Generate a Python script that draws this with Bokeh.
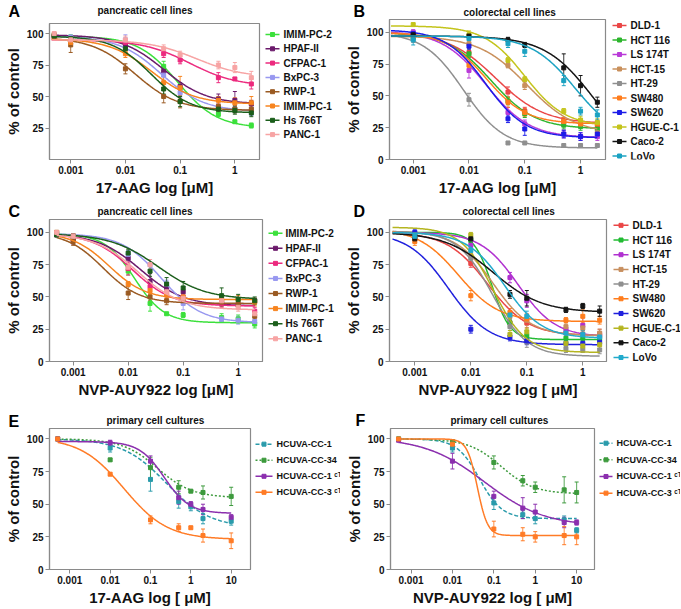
import numpy as np
from bokeh.plotting import figure
from bokeh.models import (ColumnDataSource, Whisker, TeeHead, FixedTicker,
                          CustomJSTickFormatter, Range1d)
from bokeh.core.properties import value
from bokeh.layouts import column, row
from bokeh.embed import file_html
from bokeh.resources import INLINE

FONT = "Liberation Sans"

# ---------------- Panel A: pancreatic, 17-AAG ----------------
doses_A = [0.0005, 0.001, 0.01, 0.05, 0.1, 0.5, 1, 2]
names_A = ["IMIM-PC-2", "HPAF-II", "CFPAC-1", "BxPC-3", "RWP-1", "IMIM-PC-1", "Hs 766T", "PANC-1"]
colors_A = ["#3be03b", "#6b1a6b", "#ec2a7e", "#9898f0", "#9a5a22", "#f7841f", "#1b5e1b", "#f7a4a4"]
values_A = [
    [99, 97, 90, 74, 57, 36, 30, 27],
    [98, 96, 91, 70, 58, 48, 47, 44],
    [97, 95, 93, 84, 79, 65, 64, 60],
    [98, 97, 95, 67, 53, 41, 40, 38],
    [99, 91, 72, 50, 46, 42, 40, 40],
    [98, 93, 84, 61, 57, 47, 45, 45],
    [98, 96, 88, 56, 46, 40, 39, 37],
    [100, 95, 95, 88, 83, 75, 73, 65],
]
errors_A = [
    [1, 2, 3, 4, 4, 2, 1, 2],
    [1, 2, 3, 4, 3, 4, 7, 3],
    [1, 2, 2, 3, 3, 4, 1, 4],
    [1, 2, 4, 4, 4, 3, 3, 3],
    [1, 6, 4, 5, 5, 4, 3, 3],
    [1, 3, 3, 5, 9, 3, 4, 5],
    [1, 2, 3, 4, 4, 3, 3, 3],
    [1, 2, 3, 3, 3, 3, 4, 5],
]
top_A = [98, 99, 95, 98, 97, 96, 98, 95]
bottom_A = [25, 44, 58, 38, 39, 44, 37, 65]
ec50_A = [0.09, 0.05, 0.15, 0.045, 0.015, 0.03, 0.03, 0.2]
hill_A = [1.2, 1.1, 1.0, 1.1, 1.1, 1.1, 1.2, 1.0]

# ---------------- Panel B: colorectal, 17-AAG ----------------
doses_B = [0.001, 0.01, 0.05, 0.1, 0.5, 1, 2]
names_B = ["DLD-1", "HCT 116", "LS 174T", "HCT-15", "HT-29", "SW480", "SW620", "HGUE-C-1", "Caco-2", "LoVo"]
colors_B = ["#ea4646", "#2db52d", "#b93ad8", "#c9905c", "#8f8f8f", "#ff7d1c", "#1c1ce8", "#c4c41c", "#141414", "#1ba2c2"]
values_B = [
    [97, 84, 53, 38, 30, 28, 27],
    [96, 83, 46, 36, 27, 26, 24],
    [100, 70, 37, 28, 20, 18, 18],
    [98, 91, 74, 58, 30, 28, 21],
    [95, 47, 13, 13, 11, 11, 11],
    [98, 74, 45, 37, 30, 28, 28],
    [99, 89, 32, 24, 20, 18, 20],
    [106, 98, 78, 63, 38, 31, 29],
    [98, 97, 94, 90, 72, 58, 45],
    [94, 95, 91, 85, 62, 38, 35],
]
errors_B = [
    [2, 3, 4, 3, 3, 3, 3],
    [2, 3, 3, 3, 3, 3, 3],
    [2, 6, 4, 3, 3, 3, 3],
    [2, 3, 2, 3, 3, 3, 3],
    [3, 5, 1, 1, 1, 1, 1],
    [2, 3, 4, 3, 3, 3, 3],
    [2, 3, 3, 5, 3, 3, 3],
    [1, 3, 2, 2, 2, 3, 3],
    [2, 2, 2, 2, 11, 8, 4],
    [4, 3, 3, 4, 4, 3, 4],
]
top_B = [100, 100, 101, 97, 100, 100, 102, 105, 97, 97]
bottom_B = [28, 24, 17, 20, 9, 28, 17, 26, 0, 15]
ec50_B = [0.03, 0.025, 0.02, 0.11, 0.008, 0.02, 0.02, 0.1, 1.7, 0.8]
hill_B = [1.0, 1.1, 1.1, 1.0, 1.2, 1.2, 1.2, 1.2, 1.0, 1.1]

# ---------------- Panel C: pancreatic, NVP-AUY922 ----------------
doses_C = [0.0005, 0.001, 0.01, 0.025, 0.05, 0.1, 0.5, 1, 2]
names_C = names_A
colors_C = colors_A
values_C = [
    [100, 96, 70, 45, 37, 36, 34, 33, 29],
    [98, 94, 80, 62, 57, 54, 46, 44, 47],
    [100, 97, 72, 58, 53, 50, 45, 44, 39],
    [99, 97, 83, 75, 60, 45, 33, 32, 31],
    [99, 93, 53, 50, 47, 48, 46, 44, 35],
    [100, 97, 60, 55, 52, 50, 48, 48, 46],
    [98, 97, 84, 70, 60, 57, 51, 48, 47],
    [100, 97, 73, 75, 54, 49, 47, 42, 37],
]
errors_C = [
    [1, 2, 3, 6, 1, 2, 3, 3, 3],
    [1, 3, 4, 6, 4, 4, 3, 3, 2],
    [1, 2, 5, 4, 4, 4, 3, 3, 3],
    [1, 2, 3, 4, 3, 5, 2, 3, 3],
    [1, 3, 5, 3, 3, 3, 3, 3, 3],
    [1, 2, 2, 3, 3, 3, 3, 3, 3],
    [1, 2, 3, 4, 5, 5, 6, 4, 3],
    [1, 2, 3, 4, 3, 3, 3, 3, 3],
]
top_C = [99, 99, 99, 99, 100, 100, 99, 99]
bottom_C = [30, 43, 43, 30, 45, 48, 48, 40]
ec50_C = [0.013, 0.017, 0.012, 0.04, 0.0035, 0.0045, 0.035, 0.015]
hill_C = [1.6, 1.1, 1.2, 1.2, 1.3, 1.3, 1.0, 1.1]

# ---------------- Panel D: colorectal, NVP-AUY922 ----------------
doses_D = [0.001, 0.01, 0.05, 0.1, 0.5, 1, 2]
names_D = names_B
colors_D = ["#ea4646", "#22bb33", "#b030d0", "#c89060", "#8f8f8f", "#ff7d1c", "#2020dd", "#b5b520", "#141414", "#22aacc"]
values_D = [
    [96, 76, 30, 30, 22, 21, 21],
    [98, 94, 30, 20, 18, 18, 18],
    [99, 90, 65, 47, 25, 28, 20],
    [97, 82, 35, 32, 27, 26, 22],
    [97, 80, 27, 15, 10, 9, 9],
    [93, 51, 38, 33, 32, 35, 32],
    [100, 25, 19, 16, 14, 14, 15],
    [98, 98, 21, 23, 14, 12, 13],
    [95, 95, 52, 49, 40, 43, 39],
    [97, 86, 36, 35, 22, 21, 19],
]
errors_D = [
    [3, 3, 3, 4, 4, 3, 4],
    [2, 2, 3, 4, 3, 3, 3],
    [2, 2, 4, 5, 3, 6, 3],
    [2, 3, 3, 4, 3, 3, 3],
    [2, 4, 3, 4, 3, 2, 3],
    [3, 4, 3, 4, 2, 5, 3],
    [2, 3, 3, 3, 2, 2, 2],
    [2, 2, 3, 3, 3, 3, 3],
    [3, 3, 3, 6, 2, 2, 4],
    [2, 3, 3, 4, 3, 3, 3],
]
top_D = [100, 100, 100, 101, 101, 103, 100, 104, 100, 100]
bottom_D = [20, 17, 19, 20, 4, 31, 13, 7, 38, 18]
ec50_D = [0.02, 0.024, 0.07, 0.025, 0.024, 0.006, 0.004, 0.025, 0.025, 0.04]
hill_D = [1.2, 2.7, 1.3, 1.3, 1.4, 1.2, 1.2, 1.5, 1.0, 1.3]

# ---------------- Panel E: primary cultures, 17-AAG ----------------
doses_E = [0.0005, 0.01, 0.1, 0.5, 1, 2, 10]
names_E = ["HCUVA-CC-1", "HCUVA-CC-34", "HCUVA-CC-1 \u1d9c\u1d40", "HCUVA-CC-3 \u1d9c\u1d40"]
colors_E = ["#2a9bab", "#3d9a3d", "#8b2fae", "#ff7b26"]
dashes_E = ["4 2", "2 2", "solid", "solid"]
values_E = [
    [100, 93, 69, 52, 48, 39, 37],
    [100, 84, 78, 63, 60, 59, 56],
    [100, 97, 83, 55, 50, 46, 40],
    [100, 73, 38, 32, 32, 26, 22],
]
errors_E = [
    [1, 3, 9, 5, 3, 4, 3],
    [1, 1, 8, 5, 1, 5, 7],
    [1, 2, 4, 5, 2, 4, 2],
    [1, 1, 3, 3, 1, 5, 6],
]
top_E = [100, 100, 98, 101]
bottom_E = [32, 55, 43, 23]
ec50_E = [0.25, 0.15, 0.22, 0.022]
hill_E = [0.8, 1.0, 1.4, 0.8]

# ---------------- Panel F: primary cultures, NVP-AUY922 ----------------
doses_F = [0.0005, 0.01, 0.1, 0.5, 1, 5, 10]
names_F = names_E
colors_F = colors_E
dashes_F = dashes_E
values_F = [
    [100, 93, 51, 42, 39, 38, 30],
    [100, 98, 82, 68, 63, 61, 59],
    [99, 83, 56, 47, 44, 36, 36],
    [100, 96, 31, 27, 25, 26, 25],
]
errors_F = [
    [1, 3, 5, 3, 4, 3, 2],
    [1, 1, 5, 4, 4, 10, 8],
    [1, 6, 4, 8, 6, 4, 2],
    [1, 2, 6, 5, 4, 7, 6],
]
top_F = [100, 100, 101, 100]
bottom_F = [39, 58, 33, 26]
ec50_F = [0.045, 0.15, 0.06, 0.04]
hill_F = [1.6, 1.1, 0.6, 3.5]


def four_pl(x, top, bottom, ec50, hill):
    return bottom + (top - bottom) / (1.0 + (x / ec50) ** hill)


def blank_fig(w, h, bt=0, bb=0):
    inner_h = h - bt - bb
    f = figure(width=w, height=h, x_range=Range1d(0, w), y_range=Range1d(inner_h, 0),
               x_axis_location=None, y_axis_location=None, title=None,
               output_backend="svg", toolbar_location=None,
               min_border=0, min_border_left=0, min_border_right=0,
               min_border_top=bt, min_border_bottom=bb)
    f.outline_line_color = None
    f.grid.visible = False
    f.background_fill_color = "white"
    f.border_fill_color = "white"
    return f


def make_panel(cfg, doses, names, colors, dashes, values, errors, tops, bottoms, ec50s, hills):
    W = cfg["W"]
    head_h = cfg["frame_top"] - 1
    main_w = cfg["bl"] + cfg["fw"] + 2
    main_h = 1 + cfg["fh"] + cfg["bb"]
    leg_w = W - main_w

    # header: panel letter and title
    head = blank_fig(W, head_h)
    head.text(x=[cfg["letter_x"]], y=[cfg["letter_mid"]], text=[cfg["letter"]],
              text_font=value(FONT), text_font_size="16px", text_font_style="bold",
              text_color="#000000", text_baseline="middle", text_align="left")
    head.text(x=[cfg["title_x"]], y=[cfg["title_mid"]], text=[cfg["title"]],
              text_font=value(FONT), text_font_size="10px", text_font_style="bold",
              text_color="#111111", text_baseline="middle", text_align="left")

    # main plot
    p = figure(width=main_w, height=main_h, x_axis_type="log",
               x_range=Range1d(*cfg["xr"]), y_range=Range1d(*cfg["yr"]),
               title=None, output_backend="svg", toolbar_location=None,
               min_border_left=cfg["bl"], min_border_right=2,
               min_border_top=1, min_border_bottom=cfg["bb"])
    p.xgrid.visible = False
    p.ygrid.visible = False
    p.outline_line_color = "#8a8a8a"
    p.outline_line_width = 1.2
    p.background_fill_color = "white"
    p.border_fill_color = "white"
    p.xaxis.ticker = FixedTicker(ticks=cfg["xticks"])
    p.xaxis.formatter = CustomJSTickFormatter(code="return tick.toString();")
    p.yaxis.ticker = FixedTicker(ticks=cfg["yticks"])
    p.xaxis.axis_label = cfg["xlabel"]
    p.yaxis.axis_label = "% of control"
    for ax in (p.xaxis[0], p.yaxis[0]):
        ax.axis_line_color = "#8a8a8a"
        ax.axis_line_width = 1.2
        ax.major_tick_line_color = "#8a8a8a"
        ax.major_tick_out = 4
        ax.major_tick_in = 0
        ax.minor_tick_line_color = None
        ax.major_label_text_font = FONT
        ax.major_label_text_font_size = "10px"
        ax.major_label_text_font_style = "bold"
        ax.major_label_text_color = "#111111"
        ax.major_label_standoff = 2
        ax.axis_label_text_font = FONT
        ax.axis_label_text_font_size = "15px"
        ax.axis_label_text_font_style = "bold"
        ax.axis_label_text_color = "#111111"
        ax.axis_label_standoff = 2

    # legend panel (drawn as glyphs in its own canvas, frame matched to the plot frame)
    lg = blank_fig(leg_w, main_h, bt=1, bb=cfg["bb"])

    xs = np.logspace(np.log10(cfg["curve_lo"]), np.log10(doses[-1]), 240)
    g0, g1, tx = cfg["leg_g0"], cfg["leg_g1"], cfg["leg_tx"]
    for i, name in enumerate(names):
        c = colors[i]
        d = dashes[i] if dashes is not None else "solid"
        ys = four_pl(xs, tops[i], bottoms[i], ec50s[i], hills[i])
        p.line(xs, ys, line_color=c, line_width=1.5, line_dash=d)
        v = np.array(values[i], dtype=float)
        e = np.array(errors[i], dtype=float)
        src = ColumnDataSource(dict(x=doses, y=list(v), upper=list(v + e), lower=list(v - e)))
        p.add_layout(Whisker(base="x", upper="upper", lower="lower", source=src,
                             line_color=c, line_width=1, line_alpha=0.85,
                             upper_head=TeeHead(size=4, line_color=c, line_width=1),
                             lower_head=TeeHead(size=4, line_color=c, line_width=1)))
        p.scatter("x", "y", source=src, marker="square", size=4, fill_color=c, line_color=c)

        yy = cfg["leg_first"] + cfg["leg_step"] * i
        lg.line([g0, g1], [yy, yy], line_color=c, line_width=1.5, line_dash=d)
        lg.scatter([(g0 + g1) / 2.0], [yy], marker="square", size=4, fill_color=c, line_color=c)
        lg.text(x=[tx], y=[yy], text=[name], text_font=value(FONT),
                text_font_size=cfg["leg_font"], text_font_style="bold",
                text_color="#111111", text_baseline="middle", text_align="left")

    return column(head, row(p, lg))


cfg_A = dict(W=340, frame_top=23, bl=49, fw=210, fh=136, bb=41,
             letter="A", letter_x=8, letter_mid=11, title="pancreatic cell lines", title_x=97, title_mid=10,
             xlabel="17-AAG log [\u03bcM]", xr=(0.00041, 2.82), yr=(0, 108),
             xticks=[0.001, 0.01, 0.1, 1], yticks=[25, 50, 75, 100], curve_lo=0.00045,
             leg_g0=4, leg_g1=18, leg_tx=22, leg_first=11, leg_step=14.3, leg_font="10px")
cfg_B = dict(W=340, frame_top=19, bl=49, fw=216, fh=140, bb=41,
             letter="B", letter_x=13, letter_mid=10.5, title="colorectal cell lines", title_x=123, title_mid=11.5,
             xlabel="17-AAG log [\u03bcM]", xr=(0.000376, 2.8), yr=(0, 110),
             xticks=[0.001, 0.01, 0.1, 1], yticks=[0, 25, 50, 75, 100], curve_lo=0.0004,
             leg_g0=5, leg_g1=19, leg_tx=23, leg_first=6, leg_step=14.5, leg_font="10px")
cfg_C = dict(W=340, frame_top=19, bl=49, fw=213, fh=145, bb=36,
             letter="C", letter_x=8, letter_mid=10.5, title="pancreatic cell lines", title_x=97, title_mid=11,
             xlabel="NVP-AUY922 log [\u03bcM]", xr=(0.000371, 2.77), yr=(0, 110),
             xticks=[0.001, 0.01, 0.1, 1], yticks=[0, 25, 50, 75, 100], curve_lo=0.0005,
             leg_g0=4, leg_g1=18, leg_tx=21, leg_first=14, leg_step=15.4, leg_font="10px")
cfg_D = dict(W=340, frame_top=19, bl=49, fw=217, fh=146, bb=35,
             letter="D", letter_x=13, letter_mid=10.5, title="colorectal cell lines", title_x=122, title_mid=11,
             xlabel="NVP-AUY922 log [ \u03bcM]", xr=(0.000353, 2.65), yr=(0, 110),
             xticks=[0.001, 0.01, 0.1, 1], yticks=[0, 25, 50, 75, 100], curve_lo=0.0004,
             leg_g0=5, leg_g1=20, leg_tx=24, leg_first=6, leg_step=15.1, leg_font="10px")
cfg_E = dict(W=340, frame_top=28, bl=49, fw=201, fh=144, bb=36,
             letter="E", letter_x=8, letter_mid=20.5, title="primary cell cultures", title_x=106, title_mid=20,
             xlabel="17-AAG log [ \u03bcM]", xr=(0.000314, 30.1), yr=(0, 108),
             xticks=[0.001, 0.01, 0.1, 1, 10], yticks=[0, 25, 50, 75, 100], curve_lo=0.0005,
             leg_g0=3, leg_g1=20, leg_tx=24, leg_first=16, leg_step=16.4, leg_font="9px")
cfg_F = dict(W=340, frame_top=28, bl=50, fw=204, fh=144, bb=36,
             letter="F", letter_x=15, letter_mid=19.5, title="primary cell cultures", title_x=110, title_mid=19.5,
             xlabel="NVP-AUY922 log [ \u03bcM]", xr=(0.000319, 27.0), yr=(0, 108),
             xticks=[0.001, 0.01, 0.1, 1, 10], yticks=[0, 25, 50, 75, 100], curve_lo=0.0005,
             leg_g0=3, leg_g1=16, leg_tx=20, leg_first=15, leg_step=17, leg_font="9px")

pA = make_panel(cfg_A, doses_A, names_A, colors_A, None, values_A, errors_A, top_A, bottom_A, ec50_A, hill_A)
pB = make_panel(cfg_B, doses_B, names_B, colors_B, None, values_B, errors_B, top_B, bottom_B, ec50_B, hill_B)
pC = make_panel(cfg_C, doses_C, names_C, colors_C, None, values_C, errors_C, top_C, bottom_C, ec50_C, hill_C)
pD = make_panel(cfg_D, doses_D, names_D, colors_D, None, values_D, errors_D, top_D, bottom_D, ec50_D, hill_D)
pE = make_panel(cfg_E, doses_E, names_E, colors_E, dashes_E, values_E, errors_E, top_E, bottom_E, ec50_E, hill_E)
pF = make_panel(cfg_F, doses_F, names_F, colors_F, dashes_F, values_F, errors_F, top_F, bottom_F, ec50_F, hill_F)

layout = column(row(pA, pB), row(pC, pD), row(pE, pF))
open("out.html", "w").write(file_html(layout, INLINE))
